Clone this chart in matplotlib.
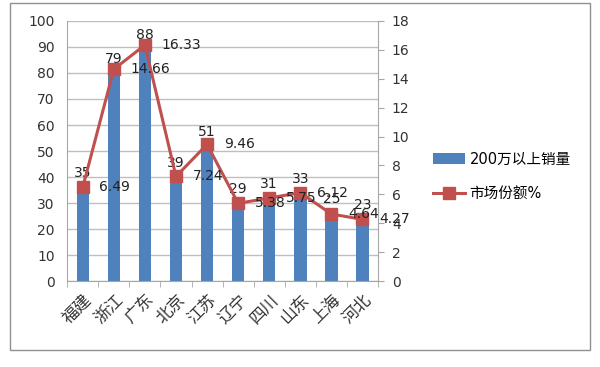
import matplotlib.pyplot as plt
import numpy as np
from matplotlib.patches import Rectangle

plt.rcParams['font.family'] = ['DejaVu Sans', 'Noto Sans CJK SC']

provinces = ['福建', '浙江', '广东', '北京', '江苏', '辽宁', '四川', '山东', '上海', '河北']
sales = [35, 79, 88, 39, 51, 29, 31, 33, 25, 23]
share = [6.49, 14.66, 16.33, 7.24, 9.46, 5.38, 5.75, 6.12, 4.64, 4.27]

blue = '#4F81BD'
red = '#C0504D'
grey = '#A6A6A6'

fig = plt.figure(figsize=(6, 3.67), dpi=100)
fig.patches.append(Rectangle((10 / 600, 1 - 350 / 367), 580 / 600, 347 / 367,
                             transform=fig.transFigure, fill=False,
                             edgecolor='#909090', linewidth=1))

ax = fig.add_axes([0.112, 0.234, 0.518, 0.709])
ax2 = ax.twinx()

x = np.arange(len(provinces))
ax.bar(x, sales, width=0.4, color=blue, zorder=2, label='200万以上销量')
ax.set_ylim(0, 100)
ax.set_yticks(range(0, 101, 10))
ax.set_xlim(-0.5, len(provinces) - 0.5)
ax.yaxis.grid(True, color='#BFBFBF', linewidth=1, zorder=0)
ax.set_axisbelow(True)
for s in ['top', 'right']:
    ax.spines[s].set_visible(False)
ax.spines['left'].set_color(grey)
ax.spines['bottom'].set_color(grey)
ax.tick_params(axis='y', length=0, labelsize=10, pad=9, colors='#333333')
ax.set_xticks(x)
ax.set_xticklabels(provinces, rotation=45, ha='right', rotation_mode='anchor',
                   fontsize=12, color='#333333')
ax.set_xticks(np.arange(-0.5, len(provinces)), minor=True)
ax.tick_params(axis='x', which='major', length=0, pad=7)
ax.tick_params(axis='x', which='minor', length=4, color=grey)

for xi, v in zip(x, sales):
    ax.annotate(str(v), (xi, v), xytext=(0, 7), textcoords='offset points',
                ha='center', va='bottom', fontsize=10, color='#222222')

ax2.plot(x, share, color=red, linewidth=2.2, marker='s', markersize=9,
         label='市场份额%', zorder=3)
ax2.set_ylim(0, 18)
ax2.set_yticks(range(0, 19, 2))
for s in ['top', 'left', 'bottom']:
    ax2.spines[s].set_visible(False)
ax2.spines['right'].set_color(grey)
ax2.tick_params(axis='y', length=4, color=grey, labelsize=10, pad=6, labelcolor='#333333')

for xi, v in zip(x, share):
    ax2.annotate(f'{v:g}', (xi, v), xytext=(12, 0), textcoords='offset points',
                 ha='left', va='center', fontsize=10, color='#222222')

h1, l1 = ax.get_legend_handles_labels()
h2, l2 = ax2.get_legend_handles_labels()
fig.legend(h1 + h2, l1 + l2, loc='center left', bbox_to_anchor=(0.70, 0.52),
           frameon=False, fontsize=10.5, handlelength=2.2, labelspacing=1.3,
           handletextpad=0.3)

fig.savefig('out.png', dpi=100)
